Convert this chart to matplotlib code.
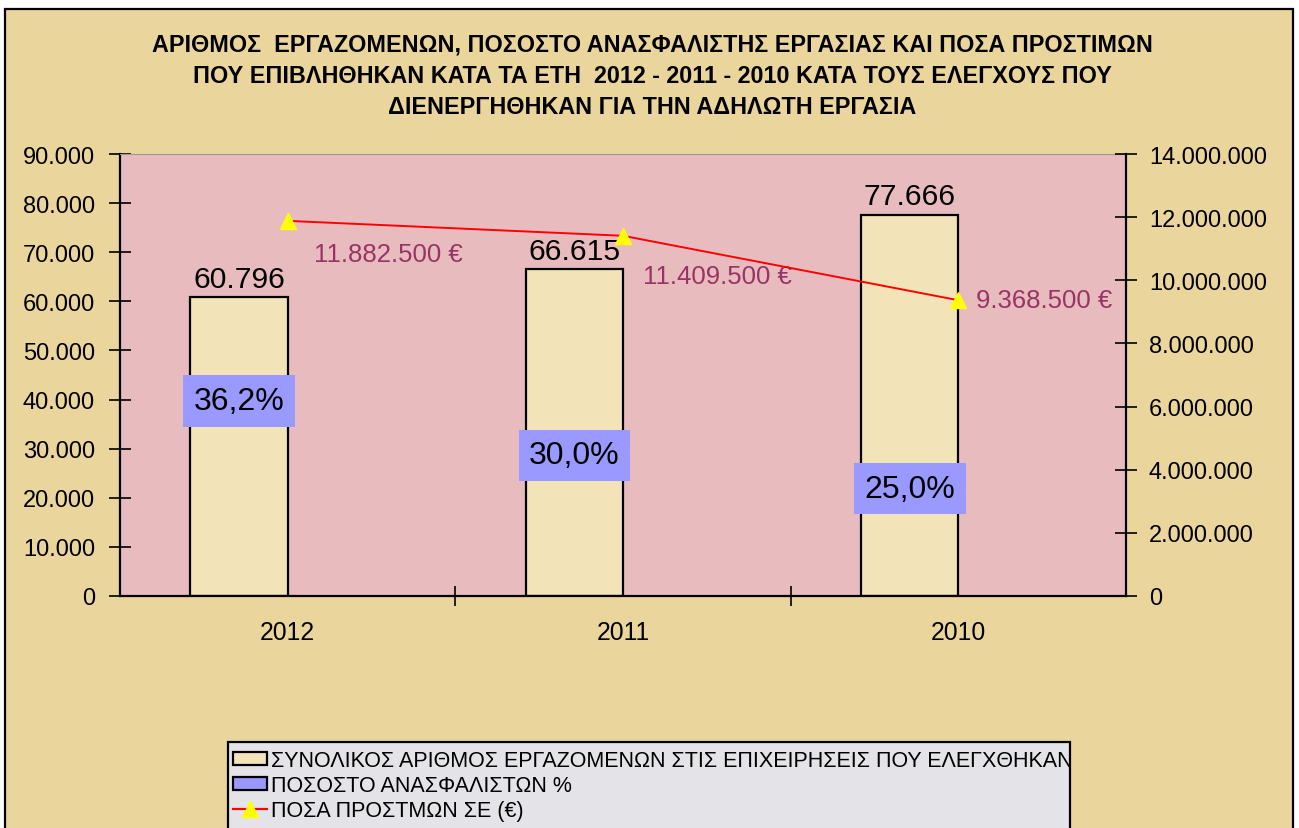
import matplotlib
matplotlib.use("Agg")
import matplotlib.pyplot as plt
from matplotlib.patches import Rectangle, Patch
from matplotlib.lines import Line2D
from matplotlib.ticker import FuncFormatter, MultipleLocator

plt.rcParams["font.family"] = ["Liberation Sans", "DejaVu Sans"]

years = ["2012", "2011", "2010"]
workers = [60796, 66615, 77666]
uninsured_pct = [36.2, 30.0, 25.0]
fines_eur = [11882500, 11409500, 9368500]

TITLE = ("ΑΡΙΘΜΟΣ  ΕΡΓΑΖΟΜΕΝΩΝ, ΠΟΣΟΣΤΟ ΑΝΑΣΦΑΛΙΣΤΗΣ ΕΡΓΑΣΙΑΣ ΚΑΙ ΠΟΣΑ ΠΡΟΣΤΙΜΩΝ\n"
         "ΠΟΥ ΕΠΙΒΛΗΘΗΚΑΝ ΚΑΤΑ ΤΑ ΕΤΗ  2012 - 2011 - 2010 ΚΑΤΑ ΤΟΥΣ ΕΛΕΓΧΟΥΣ ΠΟΥ\n"
         "ΔΙΕΝΕΡΓΗΘΗΚΑΝ ΓΙΑ ΤΗΝ ΑΔΗΛΩΤΗ ΕΡΓΑΣΙΑ")
LEGEND_LABELS = ["ΣΥΝΟΛΙΚΟΣ ΑΡΙΘΜΟΣ ΕΡΓΑΖΟΜΕΝΩΝ ΣΤΙΣ ΕΠΙΧΕΙΡΗΣΕΙΣ ΠΟΥ ΕΛΕΓΧΘΗΚΑΝ",
                 "ΠΟΣΟΣΤΟ ΑΝΑΣΦΑΛΙΣΤΩΝ %",
                 "ΠΟΣΑ ΠΡΟΣΤΜΩΝ ΣΕ (€)"]

PAPYRUS = "#ead59c"
PINK = "#e8bcbf"
BAR = "#f3e3b9"
BLUE = "#9999ff"
PURPLE = "#993366"


def dotted(v, _pos=None):
    return f"{int(round(v)):,}".replace(",", ".")


fig = plt.figure(figsize=(12.99, 8.29), dpi=100, facecolor="white")
# papyrus panel with black frame
fig.patches.append(Rectangle((5 / 1299, -0.05), 1288 / 1299, 1.05 - 10 / 829,
                             transform=fig.transFigure, facecolor=PAPYRUS,
                             edgecolor="black", lw=1.6, zorder=-2))

ax = fig.add_axes([120 / 1299, 232 / 829, 1006 / 1299, 442 / 829])
ax.set_facecolor(PINK)
x = list(range(len(years)))
bw = 0.29
bars = ax.bar([i - bw / 2 for i in x], workers, width=bw, color=BAR,
              edgecolor="black", lw=1.6, zorder=2)
for b, v in zip(bars, workers):
    ax.annotate(dotted(v), (b.get_x() + b.get_width() / 2, v),
                xytext=(0, 3), textcoords="offset points",
                ha="center", va="bottom", fontsize=21.7, zorder=5)

# uninsured share boxes sit inside each bar
pct_y = [39700, 28700, 21800]
for i, p, yy in zip(x, uninsured_pct, pct_y):
    ax.text(i - bw / 2, yy, f"{p:.1f}%".replace(".", ","), ha="center",
            va="center", fontsize=23, zorder=6,
            bbox=dict(boxstyle="square,pad=0.33", facecolor=BLUE, edgecolor="none"))

ax.set_xlim(-0.5, 2.5)
ax.set_ylim(0, 90000)
ax.yaxis.set_major_locator(MultipleLocator(10000))
ax.yaxis.set_major_formatter(FuncFormatter(dotted))
ax.set_xticks([0.5, 1.5])
ax.set_xticks(x, minor=True)
ax.set_xticklabels([])
ax.set_xticklabels(years, minor=True)
ax.tick_params(axis="x", which="major", direction="inout", length=14, width=1.2)
ax.tick_params(axis="x", which="minor", length=0, pad=17, labelsize=17.8)
ax.tick_params(axis="y", direction="inout", length=16, width=1.2, labelsize=17, pad=10)
for s in ("left", "bottom"):
    ax.spines[s].set_linewidth(1.6)
ax.spines["top"].set_color("#999999")
ax.spines["right"].set_visible(False)

ax2 = ax.twinx()
ax2.set_ylim(0, 14000000)
ax2.yaxis.set_major_locator(MultipleLocator(2000000))
ax2.yaxis.set_major_formatter(FuncFormatter(dotted))
ax2.tick_params(axis="y", direction="inout", length=16, width=1.2, labelsize=17, pad=8.5)
ax2.spines["right"].set_linewidth(1.6)
for s in ("left", "top", "bottom"):
    ax2.spines[s].set_visible(False)
ax2.plot(x, fines_eur, color="red", lw=1.4, marker="^", ms=11,
         mfc="yellow", mec="yellow", zorder=4)
fine_offsets = [(26, -33), (20, -40), (18, 0)]
for i, v, off in zip(x, fines_eur, fine_offsets):
    ax2.annotate(dotted(v) + " €", (i, v), xytext=off, textcoords="offset pixels",
                 ha="left", va="center", fontsize=18.5, color=PURPLE)

fig.text(0.502, 0.959, TITLE, ha="center", va="top", fontsize=16.8,
         fontweight="bold", linespacing=1.45)

# legend panel
fig.patches.append(Rectangle((228 / 1299, -0.05), 842 / 1299, 0.05 + 86 / 829,
                             transform=fig.transFigure, facecolor="#e4e4e8",
                             edgecolor="black", lw=1.6, zorder=1))
handles = [Patch(facecolor=BAR, edgecolor="black", lw=1.6),
           Patch(facecolor=BLUE, edgecolor="black", lw=1.6),
           Line2D([], [], color="red", lw=1.6, marker="^", ms=11,
                  mfc="yellow", mec="yellow")]
fig.legend(handles, LEGEND_LABELS, loc="upper left",
           bbox_to_anchor=(230 / 1299, 81 / 829), frameon=False, fontsize=15.5,
           handlelength=1.55, handleheight=0.6, handletextpad=0.2,
           labelspacing=0.18, borderpad=0.15, borderaxespad=0)

fig.savefig("out.png", dpi=100, facecolor=fig.get_facecolor())
